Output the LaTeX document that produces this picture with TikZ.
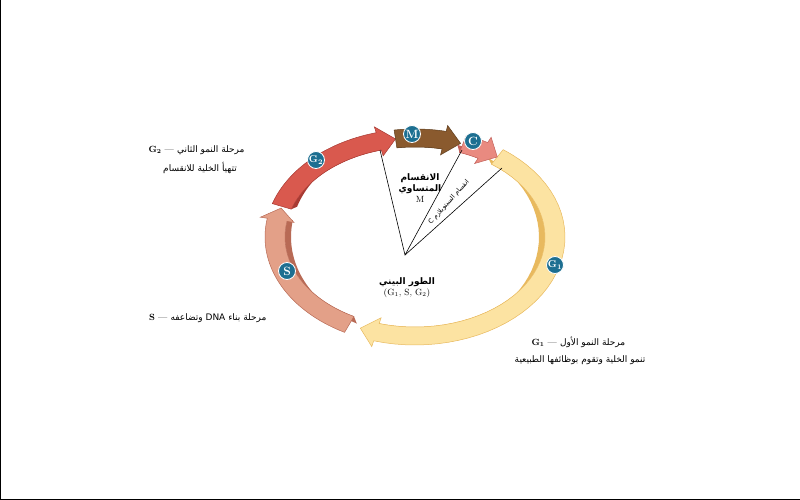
\documentclass[tikz,border=0pt]{standalone}
\usepackage{fontspec}
\newfontfamily\arf[Script=Arabic]{DejaVu Sans}
\TeXXeTstate=1
\newcommand\AR[1]{{\arf\beginR #1\endR}}
\definecolor{bb}{HTML}{1D6F91}
\begin{document}
\begin{tikzpicture}[x=1pt,y=-1pt,
  badge/.style={circle,fill=bb,draw=white,line width=0.8pt,text=white,inner sep=0pt,minimum size=17pt,font=\bfseries\fontsize{12}{12}\selectfont},
  lab/.style={font=\fontsize{9}{11}\selectfont,align=center},
  ln/.style={line width=0.6pt}]
\useasboundingbox (0,0) rectangle (800,500);
\draw[line width=1pt] (0.5,0) -- (0.5,499.5) -- (800,499.5);
\def\cx{415}\def\cy{237}
% segment: start, end, top colour, side colour
\newcommand\seg[4]{%
  \fill[#4] plot[domain=#1:#2,samples=40] ({\cx+130*cos(\x)},{\cy+90*sin(\x)})
     -- plot[domain=#2:#1,samples=40] ({\cx+124*cos(\x)},{\cy+98*sin(\x)}) -- cycle;
  \fill[#3,draw=#4,line width=0.5pt] plot[domain=#1:#2,samples=40] ({\cx+150*cos(\x)},{\cy+108*sin(\x)})
     -- ({\cx+157*cos(#2)},{\cy+114*sin(#2)})
     -- ({\cx+140*cos(#2+7)},{\cy+99*sin(#2+7)})
     -- ({\cx+123*cos(#2)},{\cy+84*sin(#2)})
     -- ({\cx+130*cos(#2)},{\cy+90*sin(#2)})
     -- plot[domain=#2:#1,samples=40] ({\cx+130*cos(\x)},{\cy+90*sin(\x)}) -- cycle;}
\definecolor{gy}{HTML}{FCE3A2}\definecolor{gyd}{HTML}{E8B95E}
\definecolor{sp}{HTML}{E3A088}\definecolor{spd}{HTML}{B86A55}
\definecolor{gr}{HTML}{D9594E}\definecolor{grd}{HTML}{A83A33}
\definecolor{mb}{HTML}{8A5A2E}\definecolor{mbd}{HTML}{5E3C1C}
\definecolor{cp}{HTML}{E98A80}\definecolor{cpd}{HTML}{C2605A}
\seg{306}{466}{gy}{gyd}
\seg{118}{190}{sp}{spd}
\seg{198}{255}{gr}{grd}
\seg{262}{282}{mb}{mbd}
\seg{290}{299}{cp}{cpd}
% lines
\coordinate (ap) at (405,255);
\coordinate (m1) at (380,150);
\coordinate (m2) at (462,150);
\coordinate (c2) at (502,168);
\draw[ln] (m1) -- (ap) -- (m2);
\draw[ln] (ap) -- (c2);
% badges
\node[badge] (bM) at (412,134) {M};
\node[badge] (bC) at (473,141) {C};
\node[badge,font=\bfseries\fontsize{10}{10}\selectfont] (bG2) at (316,160) {G\textsubscript{2}};
\node[badge] (bS) at (287,271) {S};
\node[badge,font=\bfseries\fontsize{10}{10}\selectfont] (bG1) at (555,265) {G\textsubscript{1}};
% centre labels
\node[lab] (ml) at (420,188) {{\bfseries\AR{الانقسام}}\\{\bfseries\AR{المتساوي}}\\M};
\node[lab,rotate=48,font=\fontsize{6.5}{8}\selectfont] (cl) at (449,202) {\AR{انقسام السيتوبلازم C}};
\node[lab] (il) at (407,288) {{\bfseries\AR{الطور البيني}}\\(G\textsubscript{1}, S, G\textsubscript{2})};
% side labels
\node[lab,anchor=east] (g2a) at (248,150) {\textbf{G\textsubscript{2}} --- \AR{مرحلة النمو الثاني}};
\node[lab] (g2b) at (200,168) {\AR{تتهيأ الخلية للانقسام}};
\node[lab,anchor=east] (sa) at (270,318) {\textbf{S} --- \AR{مرحلة بناء \beginL DNA\endL{} وتضاعفه}};
\node[lab,anchor=west] (g1a) at (528,342) {\textbf{G\textsubscript{1}} --- \AR{مرحلة النمو الأول}};
\node[lab] (g1b) at (580,360) {\AR{تنمو الخلية وتقوم بوظائفها الطبيعية}};
\end{tikzpicture}
\end{document}
